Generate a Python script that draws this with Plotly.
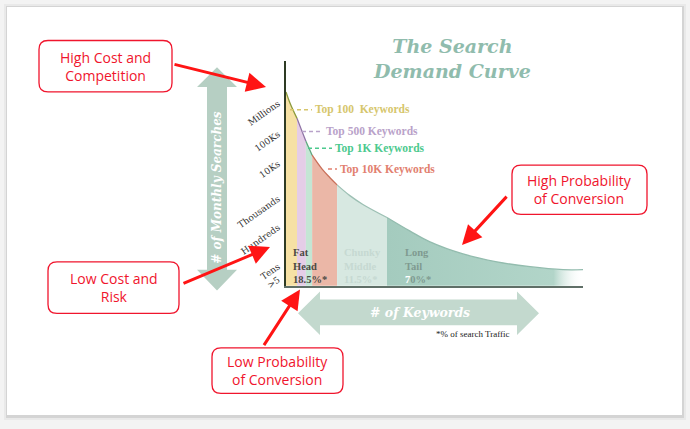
import plotly.graph_objects as go

W, H = 690, 429

# ---------------- data ----------------
keyword_pos = [0, 1.3, 3.7, 5.4, 6.7, 8.8, 12.1, 14.8, 17.2, 21.5, 25.9, 34.0,
               41.8, 48.5, 59.6, 71.0, 82.2, 93.3, 100]
log_searches = [6.33, 6.0, 5.52, 5.12, 4.82, 4.39, 3.97, 3.70, 3.48, 3.15, 2.88, 2.48,
                2.06, 1.73, 1.36, 1.12, 0.97, 0.88, 0.88]
segment_names = ["Top 100", "Top 500", "Top 1K", "Top 10K", "Chunky Middle", "Long Tail"]
segment_bounds = [0, 3.7, 6.7, 8.8, 17.2, 34.0, 100]
tick_vals = [0.6, 1.0, 2.2, 3.08, 4.15, 5.06, 6.0]
tick_text = [">5", "Tens", "Hundreds", "Thousands", "10Ks", "100Ks", "Millions"]
group_labels = [["Fat", "Head", "18.5%*"],
                ["Chunky", "Middle", "11.5%*"],
                ["Long", "Tail", "<span style='color:#ffffff'>7</span>0%*"]]
top_labels = ["Top 100  Keywords", "Top 500 Keywords", "Top 1K Keywords", "Top 10K Keywords"]
callouts = [["High Cost and", "Competition"], ["Low Cost and", "Risk"],
            ["Low Probability", "of Conversion"], ["High Probability", "of Conversion"]]
title_lines = ["The Search", "Demand Curve"]

# ---------------- helpers ----------------
def fx(px):
    return px / W


def fy(py):
    return 1 - py / H


def rrect(x0, y0, x1, y1, r):
    return (f"M {fx(x0 + r)},{fy(y0)} L {fx(x1 - r)},{fy(y0)} "
            f"Q {fx(x1)},{fy(y0)} {fx(x1)},{fy(y0 + r)} L {fx(x1)},{fy(y1 - r)} "
            f"Q {fx(x1)},{fy(y1)} {fx(x1 - r)},{fy(y1)} L {fx(x0 + r)},{fy(y1)} "
            f"Q {fx(x0)},{fy(y1)} {fx(x0)},{fy(y1 - r)} L {fx(x0)},{fy(y0 + r)} "
            f"Q {fx(x0)},{fy(y0)} {fx(x0 + r)},{fy(y0)} Z")


def poly(points):
    return "M " + " L ".join(f"{fx(a)},{fy(b)}" for a, b in points) + " Z"


def label(x, y, text, font, xanchor="center", **kw):
    d = dict(x=fx(x), y=fy(y), xref="paper", yref="paper", showarrow=False,
             xanchor=xanchor, yanchor="middle", text=text, font=font)
    d.update(kw)
    return d


fig = go.Figure()

# ---------------- curve segments ----------------
fill_colors = ["#f6e1a4", "#e5cde7", "#c4e6d4", "#ebb7a7", "#d7e8e1", "#a9cfc2"]
edge_colors = ["#8c9a3c", "#8f74a5", "#5fa67f", "#c9705a", "#9dc0b4", "#93bcae"]
for i in range(len(segment_names)):
    a, b = segment_bounds[i], segment_bounds[i + 1]
    xs = [x for x in keyword_pos if a <= x <= b]
    ys = [y for x, y in zip(keyword_pos, log_searches) if a <= x <= b]
    kw = {}
    if i == len(segment_names) - 1:
        kw["fillgradient"] = dict(type="horizontal",
                                  colorscale=[[0, "#a4cbbe"], [0.85, "#b2d5c9"],
                                              [1, "rgba(255,255,255,0)"]])
    else:
        kw["fillcolor"] = fill_colors[i]
    fig.add_trace(go.Scatter(x=xs, y=ys, mode="lines", fill="tozeroy",
                             line=dict(color=edge_colors[i], width=1.3, shape="spline"),
                             name=segment_names[i], hoverinfo="skip", **kw))

shapes = []
annotations = []

# ---------------- card + shadow ----------------
shapes.append(dict(type="rect", xref="paper", yref="paper", x0=fx(4), x1=fx(686),
                   y0=fy(425), y1=fy(4), fillcolor="#e9e9e9", line=dict(width=0), layer="below"))
shapes.append(dict(type="rect", xref="paper", yref="paper", x0=fx(6), x1=fx(684),
                   y0=fy(423), y1=fy(6), fillcolor="#d4d4d4", line=dict(width=0), layer="below"))
shapes.append(dict(type="rect", xref="paper", yref="paper", x0=fx(7), x1=fx(682),
                   y0=fy(420), y1=fy(7), fillcolor="#ffffff", line=dict(width=0), layer="below"))

# ---------------- big light arrows ----------------
shapes.append(dict(type="path", xref="paper", yref="paper", layer="below",
                   path=poly([(217, 68), (237, 88), (227, 88), (227, 273), (237, 273),
                              (217, 294), (197, 273), (207, 273), (207, 88), (197, 88)]),
                   fillcolor="#b6cfc3", line=dict(width=0)))
shapes.append(dict(type="path", xref="paper", yref="paper", layer="below",
                   path=poly([(298, 317), (320, 295), (320, 303), (517, 303), (517, 295),
                              (539, 317), (517, 339), (517, 329), (320, 329), (320, 339)]),
                   fillcolor="#c3d9ce", line=dict(width=0)))

annotations.append(label(217, 190, "<b><i># of Monthly Searches</i></b>",
                         dict(family="DejaVu Serif", size=12, color="#ffffff"), textangle=-90))
annotations.append(label(420, 316, "<b><i># of Keywords</i></b>",
                         dict(family="DejaVu Serif", size=12.5, color="#ffffff")))
annotations.append(label(512, 338, "*% of search Traffic",
                         dict(family="Liberation Serif", size=9, color="#222222"),
                         xanchor="right"))

# ---------------- title ----------------
annotations.append(label(452, 59, "<br>".join(f"<b><i>{t}</i></b>" for t in title_lines),
                         dict(family="DejaVu Serif", size=19, color="#90bcad")))

# ---------------- top-N dashed labels ----------------
top_specs = [(290, 312, 111, "#d6c66c"), (302, 323, 133, "#b9a2c9"),
             (308, 332, 150, "#4cc98e"), (328, 337, 171, "#e2806f")]
for (d0, d1, yy, col), lab in zip(top_specs, top_labels):
    shapes.append(dict(type="line", xref="paper", yref="paper", x0=fx(d0), x1=fx(d1),
                       y0=fy(yy), y1=fy(yy), line=dict(color=col, width=1.5, dash="4px,3px")))
    annotations.append(label(d1 + 1, yy, f"<b>{lab}</b>",
                             dict(family="Liberation Serif", size=11.5, color=col),
                             xanchor="left"))

# ---------------- group labels ----------------
group_specs = [(291, "#4a4a44"), (342, "#c6d9d2"), (403, "#7f9a90")]
for (xl, col), lines in zip(group_specs, group_labels):
    annotations.append(label(xl, 269, "<br>".join(f"<b>{ln}</b>" for ln in lines),
                             dict(family="Liberation Serif", size=10.5, color=col),
                             xanchor="left", align="left"))

# ---------------- red callouts ----------------
RED = "#f0152d"
boxes = [(39, 41, 172, 93), (48, 265, 179, 317), (212, 352, 343, 398), (512, 167, 647, 217)]
for (x0, y0, x1, y1), lines in zip(boxes, callouts):
    shapes.append(dict(type="path", xref="paper", yref="paper",
                       path=rrect(x0, y0, x1, y1, 9), fillcolor="#ffffff",
                       line=dict(color=RED, width=1.3)))
    annotations.append(label((x0 + x1) / 2, (y0 + y1) / 2, "<br>".join(lines),
                             dict(family="Open Sans", size=14, color=RED)))

arrows = [((173, 65), (266, 88)), ((182, 287), (270, 250)),
          ((263, 350), (300, 293)), ((508, 198), (462, 248))]
for (sx, sy), (tx, ty) in arrows:
    annotations.append(dict(x=fx(tx), y=fy(ty), xref="paper", yref="paper", text="",
                            showarrow=True, ax=sx - tx, ay=sy - ty, arrowhead=2,
                            arrowsize=1.3, arrowwidth=3, arrowcolor="#ff1414", standoff=0))

fig.update_layout(
    width=W, height=H, margin=dict(l=0, r=0, t=0, b=0),
    paper_bgcolor="#f3f3f3", plot_bgcolor="rgba(0,0,0,0)", showlegend=False,
    shapes=shapes, annotations=annotations,
    xaxis=dict(domain=[286 / W, 583 / W], range=[0, 100], showgrid=False, zeroline=False,
               showticklabels=False, ticks="", showline=True, linecolor="#5f6f67",
               linewidth=2, fixedrange=True),
    yaxis=dict(domain=[(H - 289) / H, (H - 62) / H], range=[0.39, 7.27], showgrid=False,
               zeroline=False, tickvals=tick_vals, ticktext=tick_text, tickangle=-35,
               ticks="", showline=True, linecolor="#2e3b24", linewidth=2,
               ticklabelstandoff=4,
               tickfont=dict(family="DejaVu Serif", size=9, color="#333333"),
               fixedrange=True),
)

fig.write_html("out.html", config={"displayModeBar": False},
               post_script="document.body.style.margin='0';")
